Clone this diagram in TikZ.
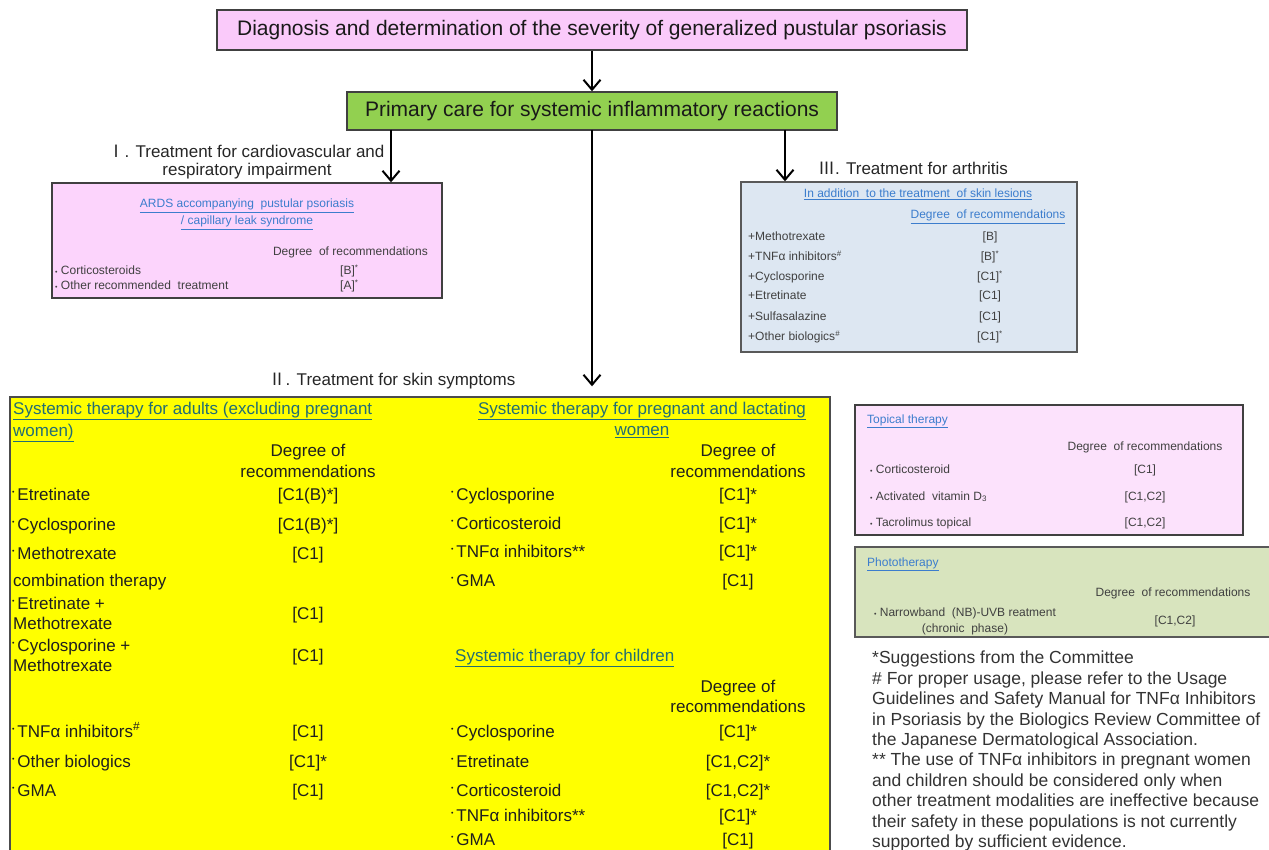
\documentclass[tikz,border=0pt]{standalone}
\usepackage{fontspec}
\setmainfont{Liberation Sans}
\newfontfamily\numfont{Noto Sans CJK JP}
\usepackage{tikz}
\usetikzlibrary{arrows.meta}

\definecolor{DiagPink}{RGB}{250,202,250}
\definecolor{PrimGreen}{RGB}{146,208,80}
\definecolor{CardPink}{RGB}{252,212,252}
\definecolor{ArthBlue}{RGB}{221,231,242}
\definecolor{SkinYellow}{RGB}{255,255,0}
\definecolor{TopPink}{RGB}{252,226,252}
\definecolor{PhotoGreen}{RGB}{216,228,190}
\definecolor{LinkBlue}{RGB}{60,125,205}
\definecolor{LinkTeal}{RGB}{35,110,115}

\newcommand{\ydot}{\raisebox{.6ex}{\fontsize{7}{7}\selectfont •}\,}
\newcommand{\sdot}{{\fontsize{7}{7}\selectfont •}\ }

\begin{document}
\begin{tikzpicture}[x=1pt,y=-1pt]
	  \useasboundingbox (0,0) rectangle (1269,850);
	  \tikzset{BoxStyle/.style = {draw,
	  								  draw           = black!75,
									  line width     = 1.4pt,
	                                 inner sep      = 0pt}}

	  \tikzset{TitleStyle/.style = {font         = \fontsize{21}{24}\selectfont,
	  								  text			= black!90}}

	  \tikzset{ArrowStyle/.style = {line width = 2pt,
	                                 -{Straight Barb[length=10pt,width=17pt,line width=2pt]}}}

	  \tikzset{LabelStyle/.style = {font = \fontsize{17}{20}\selectfont,
	                                 text = black!85,
	                                 inner sep = 0pt}}

	  \tikzset{ItemStyle/.style = {font = \fontsize{17}{20}\selectfont,
	                                 text = black!88,
	                                 inner sep = 0pt,
	                                 text height = 12pt,
	                                 text depth = 3.5pt}}

	  \tikzset{SmallStyle/.style = {font = \fontsize{12}{14}\selectfont,
	                                 text = black!75,
	                                 inner sep = 0pt,
	                                 text height = 8.5pt,
	                                 text depth = 2.5pt}}

	  % boxes
	     \node[BoxStyle, fill=DiagPink, minimum width=750pt, minimum height=40pt, TitleStyle] (Diag) at (592,30)
	          {Diagnosis and determination of the severity of generalized pustular psoriasis};
	     \node[BoxStyle, fill=PrimGreen, minimum width=490pt, minimum height=38pt, TitleStyle] (Prim) at (592,111)
	          {Primary care for systemic inflammatory reactions};
	     \node[BoxStyle, fill=CardPink, minimum width=390pt, minimum height=115pt] (Card) at (247,240.5) {};
	     \node[BoxStyle, fill=ArthBlue, draw=black!65, minimum width=336pt, minimum height=170pt] (Arth) at (909,267) {};
	     \node[BoxStyle, fill=SkinYellow, draw=black!70, minimum width=820pt, minimum height=462pt] (Skin) at (420,628) {};
	     \node[BoxStyle, fill=TopPink, minimum width=388pt, minimum height=130pt] (Top) at (1049,470) {};
	     \node[BoxStyle, fill=PhotoGreen, draw=black!65, minimum width=420pt, minimum height=90pt] (Pho) at (1065,592) {};

	  % arrows
	     \coordinate (Split_1) at (391,130);
	     \coordinate (Split_2) at (592,130);
	     \coordinate (Split_3) at (785,130);
	     \draw[ArrowStyle] (Diag.south) -- (Prim.north);
	     \draw[ArrowStyle] (Split_1) -- (Split_1 |- Card.north);
	     \draw[ArrowStyle, shorten >=10pt] (Split_2) -- (Split_2 |- Skin.north);
	     \draw[ArrowStyle] (Split_3) -- (Split_3 |- Arth.north);

	  % I. cardiovascular and respiratory impairment
	     \node[LabelStyle] (Card_t1) at (246,151) {{\numfont Ⅰ}. Treatment for cardiovascular and};
	     \node[LabelStyle] (Card_t2) at (247,171) {respiratory impairment};
	     \node[SmallStyle, text=LinkBlue] (Card_h1) at (247,205) {\underline{ARDS accompanying\ \ pustular psoriasis}};
	     \node[SmallStyle, text=LinkBlue] (Card_h2) at (247,222) {\underline{/ capillary leak syndrome}};
	     \node[SmallStyle, anchor=east] (Card_d) at (428,253) {Degree\ \ of recommendations};
	     \node[SmallStyle, anchor=west] (Card_1) at (55,272) {\sdot Corticosteroids};
	     \node[SmallStyle, anchor=west] (Card_v1) at (340,272) {[B]\textsuperscript{*}};
	     \node[SmallStyle, anchor=west] (Card_2) at (55,287) {\sdot Other recommended\ \ treatment};
	     \node[SmallStyle, anchor=west] (Card_v2) at (340,287) {[A]\textsuperscript{*}};

	  % III. arthritis
	     \node[LabelStyle] (Arth_t) at (913,168) {{\numfont Ⅲ}. Treatment for arthritis};
	     \node[SmallStyle, text=LinkBlue] (Arth_h) at (918,195) {\underline{In addition\ \ to the treatment\ \ of skin lesions}};
	     \node[SmallStyle, text=LinkBlue] (Arth_d) at (988,216) {\underline{Degree\ \ of recommendations}};
	     \node[SmallStyle, anchor=west] (Arth_1) at (748,238) {+Methotrexate};
	     \node[SmallStyle] (Arth_v1) at (990,238) {[B]};
	     \node[SmallStyle, anchor=west] (Arth_2) at (748,258) {+TNFα inhibitors\textsuperscript{\#}};
	     \node[SmallStyle] (Arth_v2) at (990,258) {[B]\textsuperscript{*}};
	     \node[SmallStyle, anchor=west] (Arth_3) at (748,278) {+Cyclosporine};
	     \node[SmallStyle] (Arth_v3) at (990,278) {[C1]\textsuperscript{*}};
	     \node[SmallStyle, anchor=west] (Arth_4) at (748,297) {+Etretinate};
	     \node[SmallStyle] (Arth_v4) at (990,297) {[C1]};
	     \node[SmallStyle, anchor=west] (Arth_5) at (748,317) {+Sulfasalazine};
	     \node[SmallStyle] (Arth_v5) at (990,317) {[C1]};
	     \node[SmallStyle, anchor=west] (Arth_6) at (748,338) {+Other biologics\textsuperscript{\#}};
	     \node[SmallStyle] (Arth_v6) at (990,338) {[C1]\textsuperscript{*}};

	  % II. skin symptoms
	     \node[LabelStyle] (Skin_t) at (392,381) {{\numfont Ⅱ}. Treatment for skin symptoms};

	     \node[ItemStyle, anchor=west, text=LinkTeal] (SA_h1) at (13,410) {\underline{Systemic therapy for adults (excluding pregnant}};
	     \node[ItemStyle, anchor=west, text=LinkTeal] (SA_h2) at (13,432) {\underline{women)}};
	     \node[ItemStyle] (SA_d1) at (308,452) {Degree of};
	     \node[ItemStyle] (SA_d2) at (308,473) {recommendations};
	     \node[ItemStyle, anchor=west] (SA_1) at (12,496) {\ydot Etretinate};
	     \node[ItemStyle] (SA_v1) at (308,496) {[C1(B)*]};
	     \node[ItemStyle, anchor=west] (SA_2) at (12,526) {\ydot Cyclosporine};
	     \node[ItemStyle] (SA_v2) at (308,526) {[C1(B)*]};
	     \node[ItemStyle, anchor=west] (SA_3) at (12,555) {\ydot Methotrexate};
	     \node[ItemStyle] (SA_v3) at (308,555) {[C1]};
	     \node[ItemStyle, anchor=west] (SA_4) at (13,582) {combination therapy};
	     \node[ItemStyle, anchor=west] (SA_5a) at (12,605) {\ydot Etretinate +};
	     \node[ItemStyle, anchor=west] (SA_5b) at (13,625) {Methotrexate};
	     \node[ItemStyle] (SA_v5) at (308,615) {[C1]};
	     \node[ItemStyle, anchor=west] (SA_6a) at (12,647) {\ydot Cyclosporine +};
	     \node[ItemStyle, anchor=west] (SA_6b) at (13,667) {Methotrexate};
	     \node[ItemStyle] (SA_v6) at (308,657) {[C1]};
	     \node[ItemStyle, anchor=west] (SA_7) at (12,733) {\ydot TNFα inhibitors\textsuperscript{\#}};
	     \node[ItemStyle] (SA_v7) at (308,733) {[C1]};
	     \node[ItemStyle, anchor=west] (SA_8) at (12,763) {\ydot Other biologics};
	     \node[ItemStyle] (SA_v8) at (308,763) {[C1]*};
	     \node[ItemStyle, anchor=west] (SA_9) at (12,792) {\ydot GMA};
	     \node[ItemStyle] (SA_v9) at (308,792) {[C1]};

	     \node[ItemStyle, text=LinkTeal] (SP_h1) at (642,410) {\underline{Systemic therapy for pregnant and lactating}};
	     \node[ItemStyle, text=LinkTeal] (SP_h2) at (642,431) {\underline{women}};
	     \node[ItemStyle] (SP_d1) at (738,452) {Degree of};
	     \node[ItemStyle] (SP_d2) at (738,473) {recommendations};
	     \node[ItemStyle, anchor=west] (SP_1) at (451,496) {\ydot Cyclosporine};
	     \node[ItemStyle] (SP_v1) at (738,496) {[C1]*};
	     \node[ItemStyle, anchor=west] (SP_2) at (451,525) {\ydot Corticosteroid};
	     \node[ItemStyle] (SP_v2) at (738,525) {[C1]*};
	     \node[ItemStyle, anchor=west] (SP_3) at (451,553) {\ydot TNFα inhibitors**};
	     \node[ItemStyle] (SP_v3) at (738,553) {[C1]*};
	     \node[ItemStyle, anchor=west] (SP_4) at (451,582) {\ydot GMA};
	     \node[ItemStyle] (SP_v4) at (738,582) {[C1]};

	     \node[ItemStyle, anchor=west, text=LinkTeal] (SC_h) at (455,657) {\underline{Systemic therapy for children}};
	     \node[ItemStyle] (SC_d1) at (738,688) {Degree of};
	     \node[ItemStyle] (SC_d2) at (738,708) {recommendations};
	     \node[ItemStyle, anchor=west] (SC_1) at (451,733) {\ydot Cyclosporine};
	     \node[ItemStyle] (SC_v1) at (738,733) {[C1]*};
	     \node[ItemStyle, anchor=west] (SC_2) at (451,763) {\ydot Etretinate};
	     \node[ItemStyle] (SC_v2) at (738,763) {[C1,C2]*};
	     \node[ItemStyle, anchor=west] (SC_3) at (451,792) {\ydot Corticosteroid};
	     \node[ItemStyle] (SC_v3) at (738,792) {[C1,C2]*};
	     \node[ItemStyle, anchor=west] (SC_4) at (451,817) {\ydot TNFα inhibitors**};
	     \node[ItemStyle] (SC_v4) at (738,817) {[C1]*};
	     \node[ItemStyle, anchor=west] (SC_5) at (451,841) {\ydot GMA};
	     \node[ItemStyle] (SC_v5) at (738,841) {[C1]};

	  % topical therapy
	     \node[SmallStyle, anchor=west, text=LinkBlue] (Top_h) at (867,420) {\underline{Topical therapy}};
	     \node[SmallStyle] (Top_d) at (1145,447) {Degree\ \ of recommendations};
	     \node[SmallStyle, anchor=west] (Top_1) at (870,470) {\sdot Corticosteroid};
	     \node[SmallStyle] (Top_v1) at (1145,470) {[C1]};
	     \node[SmallStyle, anchor=west] (Top_2) at (870,497) {\sdot Activated\ \ vitamin D\textsubscript{3}};
	     \node[SmallStyle] (Top_v2) at (1145,497) {[C1,C2]};
	     \node[SmallStyle, anchor=west] (Top_3) at (870,523) {\sdot Tacrolimus topical};
	     \node[SmallStyle] (Top_v3) at (1145,523) {[C1,C2]};

	  % phototherapy
	     \node[SmallStyle, anchor=west, text=LinkBlue] (Pho_h) at (867,563) {\underline{Phototherapy}};
	     \node[SmallStyle] (Pho_d) at (1173,593) {Degree\ \ of recommendations};
	     \node[SmallStyle] (Pho_1) at (965,613) {\sdot Narrowband\ \ (NB)-UVB reatment};
	     \node[SmallStyle] (Pho_2) at (965,629) {(chronic\ \ phase)};
	     \node[SmallStyle] (Pho_v) at (1175,621) {[C1,C2]};

	  % notes
	     \node[LabelStyle, anchor=north west, align=left, text=black!80,
	           font=\fontsize{17.5}{20.4}\selectfont] (Note) at (872,651)
	          {*Suggestions from the Committee\\
	           \# For proper usage, please refer to the Usage\\
	           Guidelines and Safety Manual for TNFα Inhibitors\\
	           in Psoriasis by the Biologics Review Committee of\\
	           the Japanese Dermatological Association.\\
	           ** The use of TNFα inhibitors in pregnant women\\
	           and children should be considered only when\\
	           other treatment modalities are ineffective because\\
	           their safety in these populations is not currently\\
	           supported by sufficient evidence.};
\end{tikzpicture}
\end{document}
